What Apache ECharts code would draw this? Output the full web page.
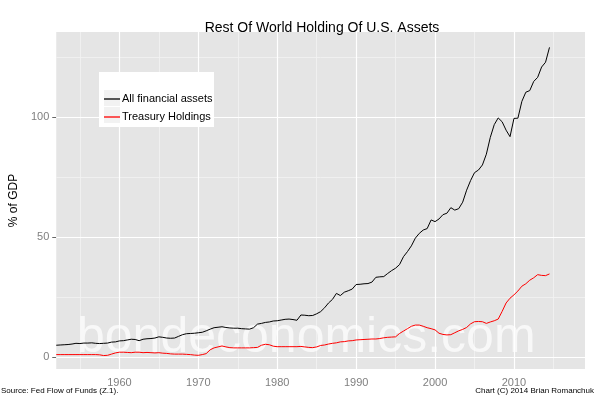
<!DOCTYPE html>
<html>
<head>
<meta charset="utf-8">
<script src="https://cdn.jsdelivr.net/npm/echarts@6/dist/echarts.min.js"></script>
<style>html,body{margin:0;padding:0;background:#fff}#c{width:600px;height:400px}</style>
</head>
<body>
<div id="c"></div>
<script>
// Semiannual observation dates
const years = [
  1952,1952.5,1953,1953.5,1954,1954.5,1955,1955.5,1956,1956.5,
  1957,1957.5,1958,1958.5,1959,1959.5,1960,1960.5,1961,1961.5,
  1962,1962.5,1963,1963.5,1964,1964.5,1965,1965.5,1966,1966.5,
  1967,1967.5,1968,1968.5,1969,1969.5,1970,1970.5,1971,1971.5,
  1972,1972.5,1973,1973.5,1974,1974.5,1975,1975.5,1976,1976.5,
  1977,1977.5,1978,1978.5,1979,1979.5,1980,1980.5,1981,1981.5,
  1982,1982.5,1983,1983.5,1984,1984.5,1985,1985.5,1986,1986.5,
  1987,1987.5,1988,1988.5,1989,1989.5,1990,1990.5,1991,1991.5,
  1992,1992.5,1993,1993.5,1994,1994.5,1995,1995.5,1996,1996.5,
  1997,1997.5,1998,1998.5,1999,1999.5,2000,2000.5,2001,2001.5,
  2002,2002.5,2003,2003.5,2004,2004.5,2005,2005.5,2006,2006.5,
  2007,2007.5,2008,2008.5,2009,2009.5,2010,2010.5,2011,2011.5,
  2012,2012.5,2013,2013.5,2014,2014.5
];
// All financial assets, % of GDP
const allFinancial = [
  4.9,5.0,5.1,5.2,5.4,5.7,5.6,5.8,5.8,5.9,
  5.7,5.6,5.7,5.8,6.2,6.3,6.7,6.8,7.1,7.4,
  7.3,6.8,7.4,7.6,7.7,7.9,8.4,8.2,7.9,7.8,
  7.9,8.6,9.3,9.7,9.8,9.9,10.1,10.3,10.9,11.6,
  12.2,12.4,12.6,12.3,12.1,12.0,12.0,11.8,11.7,11.6,
  12.2,13.7,14.0,14.4,14.6,15.0,15.1,15.4,15.7,15.8,
  15.6,15.3,17.5,17.4,17.2,17.3,18.0,18.9,20.5,22.5,
  24.0,26.5,25.6,27.0,27.6,28.3,30.2,30.3,30.5,30.6,
  31.2,33.2,33.4,33.5,34.8,36.0,37.0,38.5,41.8,43.9,
  46.3,49.5,51.5,52.9,53.5,57.1,56.4,57.5,59.3,59.9,
  62.2,61.2,61.8,64.5,69.5,73.5,76.8,77.9,80.0,84.5,
  91.5,96.8,99.6,98.0,94.5,91.8,99.4,99.5,106.5,110.3,
  111.0,114.8,116.5,120.8,122.8,129.0
];
// Treasury holdings, % of GDP
const treasury = [
  1.0,1.0,1.0,1.0,1.0,1.0,1.0,1.0,1.0,1.0,
  1.0,0.9,0.6,0.7,1.2,1.7,2.0,2.0,1.9,1.8,
  2.0,2.0,1.8,1.9,1.8,1.7,1.8,1.6,1.5,1.3,
  1.2,1.2,1.2,1.1,1.0,0.8,0.7,1.0,1.4,3.0,
  3.8,4.2,4.6,4.2,3.9,3.8,3.8,3.8,3.8,3.8,
  3.9,4.0,4.9,5.3,5.1,4.5,4.3,4.3,4.3,4.3,
  4.3,4.3,4.4,4.2,4.0,3.9,4.2,4.8,5.0,5.4,
  5.7,5.9,6.3,6.4,6.7,6.8,7.1,7.2,7.3,7.4,
  7.5,7.5,7.7,8.0,8.2,8.3,8.4,9.8,10.8,11.8,
  12.8,13.3,13.3,12.8,12.2,11.8,11.3,9.9,9.4,9.2,
  9.3,10.1,10.9,11.5,12.3,13.8,14.7,14.8,14.7,14.0,
  14.6,15.1,15.8,19.0,22.5,24.5,25.9,27.5,29.5,30.5,
  32.0,33.0,34.3,34.0,33.9,34.6
];
const xTicks = [1960,1970,1980,1990,2000,2010];
const xMinor = [1955,1965,1975,1985,1995,2005,2015];
const yTicks = [0,50,100];
const yMinor = [25,75,125];
const seriesNames = ['All financial assets','Treasury Holdings'];

const FONT = "'Liberation Sans', Arial, sans-serif";
const pairs = (vals) => years.map((y, i) => [y, vals[i]]);

const gridLines = [];
xMinor.forEach(v => gridLines.push({xAxis: v, lineStyle: {color: '#f2f2f2', width: 0.8, type: 'solid'}}));
yMinor.forEach(v => gridLines.push({yAxis: v, lineStyle: {color: '#f2f2f2', width: 0.8, type: 'solid'}}));
xTicks.forEach(v => gridLines.push({xAxis: v, lineStyle: {color: '#ffffff', width: 1.2, type: 'solid'}}));
yTicks.forEach(v => gridLines.push({yAxis: v, lineStyle: {color: '#ffffff', width: 1.2, type: 'solid'}}));

const chart = echarts.init(document.getElementById('c'), null, {renderer: 'canvas'});
chart.setOption({
  animation: false,
  backgroundColor: '#ffffff',
  textStyle: {fontFamily: FONT},
  title: {
    text: 'Rest Of World Holding Of U.S. Assets',
    left: 317, top: 16, textAlign: 'center',
    textStyle: {fontSize: 14, fontWeight: 'normal', color: '#000', fontFamily: FONT}
  },
  grid: {
    left: 49, right: 15, top: 32, bottom: 31,
    show: true, backgroundColor: '#e5e5e5', borderWidth: 0, z: 0
  },
  legend: {
    data: seriesNames.map(n => ({name: n, icon: 'rect'})),
    orient: 'vertical',
    left: 104, top: 91,
    padding: 0,
    itemWidth: 16, itemHeight: 1.3, itemGap: 2,
    z: 10,
    textStyle: {fontSize: 11, lineHeight: 16, color: '#000', fontFamily: FONT, padding: [0, 0, 0, -3]}
  },
  xAxis: {
    type: 'value', min: 1952, max: 2019,
    axisLine: {show: false},
    splitLine: {show: false},
    axisTick: {show: true, customValues: xTicks, length: 4, lineStyle: {color: '#666'}},
    axisLabel: {customValues: xTicks, color: '#7f7f7f', fontSize: 11, margin: 8, fontFamily: FONT,
                formatter: v => String(v)}
  },
  yAxis: {
    type: 'value', min: -5, max: 135.4,
    name: '% of GDP', nameLocation: 'middle', nameRotate: 90, nameGap: 27,
    nameTextStyle: {fontSize: 12, color: '#000', fontFamily: FONT},
    axisLine: {show: false},
    splitLine: {show: false},
    axisTick: {show: true, customValues: yTicks, length: 4, lineStyle: {color: '#666'}},
    axisLabel: {customValues: yTicks, color: '#7f7f7f', fontSize: 11, margin: 7, fontFamily: FONT,
                formatter: v => String(v)}
  },
  graphic: [
    {type: 'text', z: 2, silent: true,
     style: {x: 77, y: 363, text: 'bondeconomics.com', font: "50px 'Liberation Sans', Arial, sans-serif",
             fill: 'rgba(255,255,255,0.72)', textAlign: 'left', textVerticalAlign: 'bottom', verticalAlign: 'bottom'}},
    {type: 'rect', z: 5, silent: true, shape: {x: 99, y: 72, width: 115, height: 55}, style: {fill: '#ffffff'}},
    {type: 'rect', z: 6, silent: true, shape: {x: 104, y: 90, width: 16, height: 16}, style: {fill: '#f2f2f2'}},
    {type: 'rect', z: 6, silent: true, shape: {x: 104, y: 107, width: 16, height: 16}, style: {fill: '#f2f2f2'}},
    {type: 'text', z: 5, silent: true, left: 1, top: 387,
     style: {text: 'Source: Fed Flow of Funds (Z.1).', font: "8px 'Liberation Sans', Arial, sans-serif", fill: '#000'}},
    {type: 'text', z: 5, silent: true, right: 6, top: 387,
     style: {text: 'Chart (C) 2014 Brian Romanchuk', font: "8px 'Liberation Sans', Arial, sans-serif", fill: '#000'}}
  ],
  series: [
    {
      name: '_grid', type: 'line', data: [], z: 1, silent: true,
      markLine: {silent: true, z: 1, symbol: ['none', 'none'], label: {show: false}, animation: false, data: gridLines}
    },
    {
      name: seriesNames[0], type: 'line', data: pairs(allFinancial), z: 3,
      showSymbol: false, symbol: 'none', color: '#000000',
      lineStyle: {color: '#000000', width: 1}
    },
    {
      name: seriesNames[1], type: 'line', data: pairs(treasury), z: 3,
      showSymbol: false, symbol: 'none', color: '#ff0000',
      lineStyle: {color: '#ff0000', width: 1}
    }
  ]
});
</script>
</body>
</html>
